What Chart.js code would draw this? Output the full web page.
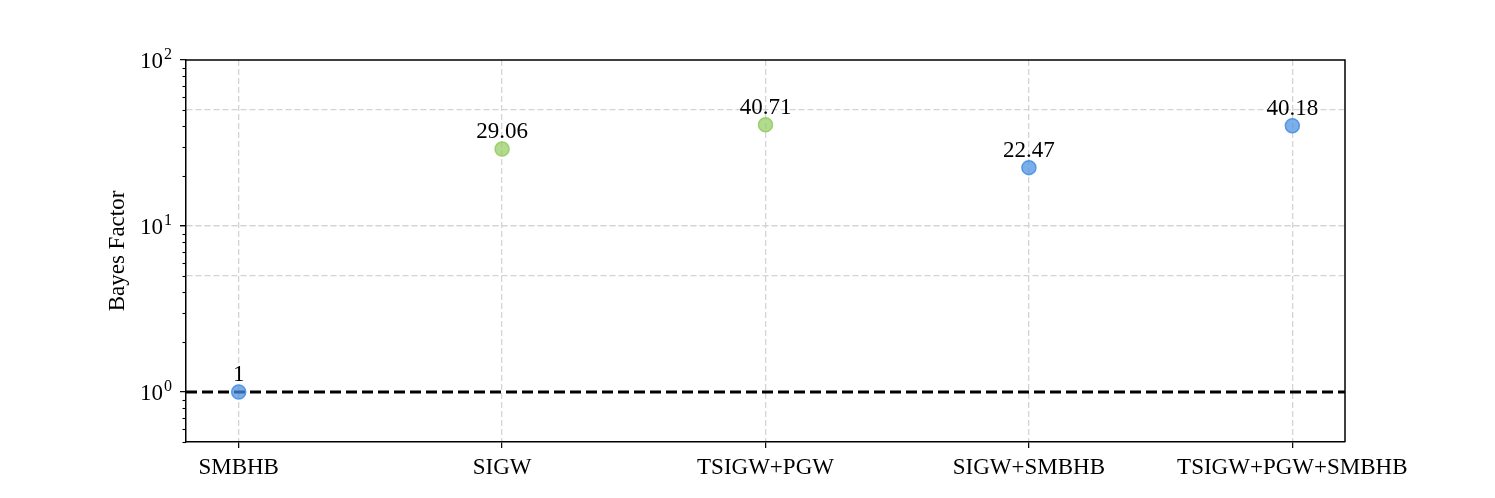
<!DOCTYPE html>
<html>
<head>
<meta charset="utf-8">
<script src="https://cdn.jsdelivr.net/npm/chart.js@4.4.0/dist/chart.umd.min.js"></script>
<style>
  html, body { margin: 0; padding: 0; background: #fff; }
  #wrap { width: 1495px; height: 498px; }
</style>
</head>
<body>
<div id="wrap"><canvas id="bfChart"></canvas></div>
<script>
const models = ["SMBHB", "SIGW", "TSIGW+PGW", "SIGW+SMBHB", "TSIGW+PGW+SMBHB"];
const bayesFactors = [1, 29.06, 40.71, 22.47, 40.18];
const pointLabels = ["1", "29.06", "40.71", "22.47", "40.18"];
const majorTicks = [1, 10, 100];
const majorExponents = ["0", "1", "2"];
const minorTicks = [0.5, 0.6, 0.7, 0.8, 0.9, 2, 3, 4, 5, 6, 7, 8, 9, 20, 30, 40, 50, 60, 70, 80, 90];
const gridValues = [5, 10, 50];
const referenceLevel = 1;

const serif = { family: "'Liberation Serif', 'DejaVu Serif', serif", size: 23 };
const gridGray = "#d4d4d4";
const blue = "rgba(74, 144, 226, 0.72)";
const blueEdge = "rgba(74, 144, 226, 0.9)";
const green = "rgba(150, 205, 100, 0.72)";
const greenEdge = "rgba(150, 205, 100, 0.9)";

const hasSmbhb = i => models[i] && models[i].includes("SMBHB");

// minor ticks, frame, 10^n tick labels and value labels
const extras = {
  id: "extras",
  afterDatasetsDraw(chart) {
    const { ctx, chartArea: a, scales } = chart;
    ctx.save();
    ctx.strokeStyle = "#000";
    ctx.lineWidth = 1.1;
    minorTicks.forEach(v => {
      const y = Math.round(scales.y.getPixelForValue(v)) + 0.5;
      ctx.beginPath();
      ctx.moveTo(a.left - 3.5, y);
      ctx.lineTo(a.left, y);
      ctx.stroke();
    });
    ctx.lineWidth = 1.5;
    ctx.beginPath();
    ctx.moveTo(a.left, a.top);
    ctx.lineTo(a.right, a.top);
    ctx.lineTo(a.right, a.bottom);
    ctx.stroke();

    ctx.fillStyle = "#000";
    ctx.textBaseline = "alphabetic";
    majorTicks.forEach((v, i) => {
      const y = scales.y.getPixelForValue(v);
      const right = a.left - 14;
      ctx.font = `16px ${serif.family}`;
      ctx.textAlign = "right";
      ctx.fillText(majorExponents[i], right, y - 1);
      const ew = ctx.measureText(majorExponents[i]).width;
      ctx.font = `${serif.size}px ${serif.family}`;
      ctx.fillText("10", right - ew - 1, y + 8);
    });

    const meta = chart.getDatasetMeta(1);
    ctx.font = `${serif.size}px ${serif.family}`;
    ctx.textAlign = "center";
    meta.data.forEach((el, i) => {
      ctx.fillText(pointLabels[i], el.x, el.y - 11);
    });
    ctx.restore();
  }
};

new Chart(document.getElementById("bfChart"), {
  data: {
    datasets: [
      {
        type: "line",
        data: [{ x: -0.2, y: referenceLevel }, { x: 4.2, y: referenceLevel }],
        borderColor: "#000",
        borderWidth: 3,
        borderDash: [11, 5],
        pointRadius: 0,
        order: 2
      },
      {
        type: "scatter",
        data: bayesFactors.map((v, i) => ({ x: i, y: v })),
        backgroundColor: ctx => (hasSmbhb(ctx.dataIndex) ? blue : green),
        borderColor: ctx => (hasSmbhb(ctx.dataIndex) ? blueEdge : greenEdge),
        borderWidth: 1.5,
        pointRadius: 7,
        order: 1
      }
    ]
  },
  options: {
    responsive: true,
    maintainAspectRatio: false,
    animation: false,
    layout: { padding: { left: 100, right: 150, top: 60, bottom: 0 } },
    plugins: { legend: { display: false }, tooltip: { enabled: false } },
    scales: {
      x: {
        type: "linear",
        min: -0.2,
        max: 4.2,
        afterBuildTicks: s => { s.ticks = models.map((_, i) => ({ value: i })); },
        afterFit: s => { s.height = 56; },
        ticks: {
          callback: v => models[v],
          font: serif,
          color: "#000",
          padding: 6,
          autoSkip: false,
          maxRotation: 0
        },
        grid: { color: gridGray, lineWidth: 1.3, tickColor: "#000", tickLength: 6, tickWidth: 1.2 },
        border: { color: "#000", width: 1.5, dash: [6, 3] }
      },
      y: {
        type: "logarithmic",
        min: 0.5,
        max: 100,
        afterBuildTicks: s => {
          s.ticks = [...majorTicks, ...gridValues].sort((p, q) => p - q).map(v => ({ value: v }));
        },
        afterFit: s => { s.width = 86; },
        ticks: { callback: () => "", font: serif, autoSkip: false },
        grid: {
          color: ctx => (ctx.tick && gridValues.includes(ctx.tick.value) ? gridGray : "rgba(0,0,0,0)"),
          lineWidth: 1.3,
          tickColor: ctx => (ctx.tick && majorTicks.includes(ctx.tick.value) ? "#000" : "rgba(0,0,0,0)"),
          tickLength: 6,
          tickWidth: 1.2
        },
        border: { color: "#000", width: 1.5, dash: [6, 3] },
        title: { display: true, text: "Bayes Factor", font: serif, color: "#000", padding: { top: 4, bottom: 0 } }
      }
    }
  },
  plugins: [extras]
});
</script>
</body>
</html>
